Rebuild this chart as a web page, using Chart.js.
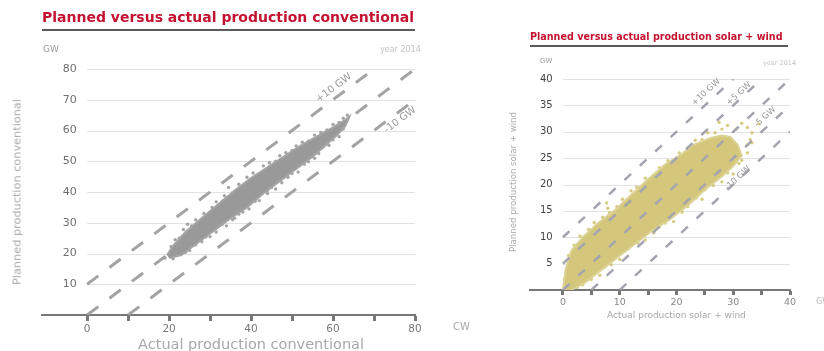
<!DOCTYPE html>
<html>
<head>
<meta charset="utf-8">
<script src="https://cdn.jsdelivr.net/npm/chart.js@4.4.1/dist/chart.umd.min.js"></script>
<style>
body{margin:0;background:#fff;font-family:'DejaVu Sans',sans-serif;}
#page{position:relative;width:824px;height:351px;overflow:hidden;background:#fff;}
.box{position:absolute;}
.ttl{position:absolute;color:#c41230;font-weight:bold;border-bottom:2px solid #5a5a5a;white-space:nowrap;}
.note{position:absolute;color:#9a9a9a;white-space:nowrap;}
.ytl{position:absolute;color:#aaa;white-space:nowrap;transform:translate(-50%,-50%) rotate(-90deg);}
</style>
</head>
<body>
<div id="page">
  <div class="box" style="left:0;top:0;width:470px;height:351px"><canvas id="c1"></canvas></div>
  <div class="box" style="left:470px;top:0;width:354px;height:351px"><canvas id="c2"></canvas></div>

  <div class="ttl" style="left:42px;top:9px;width:373px;font-size:14px;line-height:17px;padding-bottom:3px">Planned versus actual production conventional</div>
  <div class="note" style="left:43px;top:44px;font-size:9px">GW</div>
  <div class="note" style="left:380px;top:45px;font-size:8px;color:#c4c4c4">year 2014</div>
  <div class="note" style="left:453px;top:321px;font-size:10px;color:#aaa">CW</div>
  <div class="ytl" style="left:17px;top:192px;font-size:11.3px">Planned production conventional</div>

  <div class="ttl" style="left:530px;top:31px;width:258px;font-size:9.6px;line-height:11px;padding-bottom:3px">Planned versus actual production solar + wind</div>
  <div class="note" style="left:540px;top:57px;font-size:7px">GW</div>
  <div class="note" style="left:763px;top:59px;font-size:6.5px;color:#c4c4c4">year 2014</div>
  <div class="note" style="left:816px;top:297px;font-size:8px;color:#bbb">GW</div>
  <div class="ytl" style="left:513px;top:182px;font-size:8.6px">Planned production solar + wind</div>
</div>
<script>
// conventional: dense core outline + scattered edge points (GW)
const convUpperX = [19.5, 21, 24, 28, 32, 36, 40, 44, 48, 52, 56, 60, 63, 64];
const convUpperY = [19.5, 22.5, 27, 31.5, 36, 40.5, 44.5, 48, 51.5, 55, 58, 61, 63.5, 64.5];
const convLowerX = [20, 23, 27, 31, 35, 39, 43, 47, 51, 55, 58, 61, 63];
const convLowerY = [18.5, 19.5, 23.5, 27.5, 31.5, 35, 39.5, 43.5, 47.5, 51.5, 55, 58.5, 61.5];
const convPtsX = [20.5,21.5,22.5,23.5,24.5,25.5,26.5,27,28.5,29.5,30.5,31.5,33,33.5,34.5,35.5,37,38,39,40.5,42,43,44.5,46,47,48.5,50,51,52.5,54,55.5,57,58.5,60,61.5,62.5,63.5,
  19,21,22.5,24,25,26.5,28,29,30,31.5,33,34,35.5,37,38,39.5,41,42,44,45,46,47.5,49,50,51.5,53,54,55.5,56.5,57.5,59,60,61.5,62.5,44,36];
const convPtsY = [22.3,24.5,25,27.8,29.5,29,31,30,33,32.5,35,36.8,37,38.8,41.5,39.8,42.5,41.8,44.8,46.2,46,48.5,49.5,50,51.8,52.8,53.5,55,56.2,56.5,58.5,59.4,60.2,62,62.6,64,65,
  18.5,18.3,19.8,20.4,21,22.8,23.8,25.4,25.5,27,29.5,29,31,32.8,33.5,34.5,37,37.2,39.5,41.5,41,43,44.8,46,46.5,49,49.8,51,52.5,54.5,55.2,57,58,60.5,40.5,31.5];
const convOffsets = [10, 0, -10];
const convLabelText = ['+10 GW', '-10 GW'];
const convLabelX = [60.2, 76.4];
const convLabelY = [73.8, 63.4];

// solar + wind
const swUpperX = [0, 0.5, 1.5, 3.5, 6, 9, 12, 15, 18, 21, 23, 26, 28, 29.5];
const swUpperY = [0, 4, 7.5, 10, 12.5, 15, 18, 21, 23.8, 25.8, 27.5, 28.8, 29.3, 29];
const swLowerX = [1.5, 4, 7, 10, 13, 16, 19, 22, 25, 28, 30, 31.5, 30.8];
const swLowerY = [0, 1.5, 4, 6.5, 9, 11.5, 13.5, 16, 19, 21.5, 23.5, 25.5, 27.5];
const swPtsX = [0.3,1,2,3,4.5,5.5,7,7.7,7.9,8.2,9.5,10.5,12,13,14.5,15.5,17,18.5,19.5,20.5,22,23.3,24.5,25.5,26.8,28,29,30.5,31.5,32.5,33.3,33,32.5,34.5,27.5,
  2.5,3.5,5,6.5,7.4,8.5,10,11.5,13.2,14.5,16,17,18,19.5,21,22,23.5,24.5,25,26.5,28,29,30,31,31.5,32.5,33.3,27];
const swPtsY = [2,6.5,8.5,10.2,11.5,12.8,13.8,16.5,15.5,14.7,15.8,17.2,18.8,19.5,21.2,21,23.2,24.5,24.3,26,26.8,28.4,28.5,29.8,29.8,30.5,31.2,30.5,31.6,30.8,29.8,28.5,27.5,31.5,31.8,
  0.5,1,2,2.8,4.4,4.8,5.8,7.8,8.9,9.5,10.8,12,12.7,13,14.8,15.8,17.5,17.2,19,19.8,20.5,22.2,22,24,24.6,26,27.9,21];
const swOffsets = [10, 5, 0, -5, -10];
const swLabelText = ['+10 GW', '+5 GW', '-5 GW', '-10 GW'];
const swLabelX = [25.2, 31, 35.6, 30.8];
const swLabelY = [37.5, 37.2, 32.8, 21.2];

Chart.defaults.font.family = "'DejaVu Sans', sans-serif";
Chart.defaults.animation = false;

function pts(xs, ys) { return xs.map((v, i) => ({x: v, y: ys[i]})); }
function outline(ux, uy, lx, ly) { return pts(ux, uy).concat(pts(lx, ly).reverse()); }
function diag(off, max) {
  return [{x: Math.max(0, -off), y: Math.max(0, off)}, {x: Math.min(max, max - off), y: Math.min(max, max + off)}];
}

const extras = {
  id: 'extras',
  beforeDatasetsDraw(chart, args, o) {
    const {ctx, chartArea, scales: {x, y}} = chart;
    ctx.save();
    ctx.strokeStyle = o.gridColor;
    ctx.lineWidth = 1;
    const x0 = x.getPixelForValue(0);
    y.ticks.forEach(t => {
      if (t.value <= 0) return;
      const py = Math.round(y.getPixelForValue(t.value)) + 0.5;
      ctx.beginPath(); ctx.moveTo(x0, py); ctx.lineTo(chartArea.right, py); ctx.stroke();
    });
    ctx.restore();
  },
  afterDatasetsDraw(chart, args, o) {
    const {ctx, chartArea, scales: {x, y}} = chart;
    ctx.save();
    const ang = Math.atan2(y.getPixelForValue(0) - y.getPixelForValue(10), x.getPixelForValue(10) - x.getPixelForValue(0));
    ctx.fillStyle = o.labelColor;
    ctx.font = o.labelFont;
    ctx.textAlign = 'center';
    ctx.textBaseline = 'middle';
    o.labels.forEach((t, i) => {
      ctx.save();
      ctx.translate(x.getPixelForValue(o.lx[i]), y.getPixelForValue(o.ly[i]));
      ctx.rotate(-ang);
      ctx.fillText(t, 0, 0);
      ctx.restore();
    });
    ctx.fillStyle = o.titleColor;
    ctx.font = o.titleFont;
    ctx.fillText(o.xTitle, (x.getPixelForValue(0) + x.getPixelForValue(x.max)) / 2, chartArea.bottom + o.titleDy);
    ctx.restore();
  }
};

function makeChart(id, cfg) {
  const lines = cfg.offsets.map(off => ({
    data: diag(off, cfg.max), showLine: true, pointRadius: 0, fill: false,
    borderColor: cfg.dashColor, borderWidth: cfg.dashWidth, borderDash: cfg.dash, order: cfg.lineOrder
  }));
  new Chart(document.getElementById(id), {
    type: 'scatter',
    data: {
      datasets: [
        {data: outline(cfg.ux, cfg.uy, cfg.lx, cfg.ly), showLine: true, fill: 'shape', pointRadius: 0,
         borderWidth: 2, borderColor: cfg.edgeColor, backgroundColor: cfg.fillColor, order: 1},
        {data: pts(cfg.px, cfg.py), pointRadius: 1.7, borderWidth: 0, backgroundColor: cfg.ptColor, order: 1}
      ].concat(lines)
    },
    options: {
      responsive: true,
      maintainAspectRatio: false,
      layout: {padding: cfg.padding},
      plugins: {
        legend: {display: false}, tooltip: {enabled: false},
        extras: {gridColor: '#e2e2e2', labels: cfg.labText, lx: cfg.labX, ly: cfg.labY,
                 labelColor: '#9a9a9a', labelFont: cfg.labFont,
                 xTitle: cfg.xTitle, titleColor: '#a8a8a8', titleFont: cfg.titleFont, titleDy: cfg.titleDy}
      },
      scales: {
        x: {
          type: 'linear', min: cfg.xmin, max: cfg.max,
          ticks: {stepSize: cfg.xStep, includeBounds: false, autoSkip: false, maxRotation: 0, padding: 2,
                  color: cfg.xTickColor, font: {size: cfg.xTickSize},
                  callback: v => (v >= 0 && v % cfg.xLabelStep === 0) ? v : ''},
          grid: {drawOnChartArea: false, drawTicks: true, tickLength: cfg.tickLen, tickWidth: 3,
                 tickColor: c => (c.tick && c.tick.value < 0) ? 'rgba(0,0,0,0)' : '#777'},
          border: {color: '#777', width: 2},
          afterFit: s => { s.height = cfg.xHeight; }
        },
        y: {
          // axis sits just left of x = 0, so the labels end a little before the plot
          type: 'linear', min: 0, max: cfg.max, position: {x: cfg.yAxisAt},
          ticks: {stepSize: cfg.yStep, color: cfg.yTickColor, font: {size: cfg.yTickSize},
                  callback: v => v === 0 ? '' : v},
          grid: {display: false}, border: {display: false}
        }
      }
    },
    plugins: [extras]
  });
}

makeChart('c1', {
  max: 80, xmin: -11, xStep: 10, xLabelStep: 20, yStep: 10, yAxisAt: -2.5,
  ux: convUpperX, uy: convUpperY, lx: convLowerX, ly: convLowerY, px: convPtsX, py: convPtsY,
  offsets: convOffsets, dashColor: '#a3a3a3', dashWidth: 3, dash: [14, 14], lineOrder: 2,
  fillColor: '#999999', edgeColor: '#a4a4a4', ptColor: 'rgba(155,155,155,0.9)',
  labText: convLabelText, labX: convLabelX, labY: convLabelY, labFont: '10px "DejaVu Sans"',
  xTitle: 'Actual production conventional', titleFont: '14.5px "DejaVu Sans"', titleDy: 30,
  padding: {left: 42, right: 55, top: 69, bottom: 0}, xHeight: 36, tickLen: 6,
  xTickColor: '#777', xTickSize: 10.5, yTickColor: '#6f6f6f', yTickSize: 11
});

makeChart('c2', {
  max: 40, xmin: -5.8, xStep: 5, xLabelStep: 10, yStep: 5, yAxisAt: -1.8,
  ux: swUpperX, uy: swUpperY, lx: swLowerX, ly: swLowerY, px: swPtsX, py: swPtsY,
  offsets: swOffsets, dashColor: '#a4a4ae', dashWidth: 2.5, dash: [9, 12], lineOrder: 0,
  fillColor: '#d4c77c', edgeColor: '#dcd294', ptColor: 'rgba(212,200,122,0.95)',
  labText: swLabelText, labX: swLabelX, labY: swLabelY, labFont: '8.5px "DejaVu Sans"',
  xTitle: 'Actual production solar + wind', titleFont: '9px "DejaVu Sans"', titleDy: 26,
  padding: {left: 60, right: 34, top: 79, bottom: 29}, xHeight: 32, tickLen: 5,
  xTickColor: '#888', xTickSize: 9.5, yTickColor: '#444', yTickSize: 10
});
</script>
</body>
</html>
